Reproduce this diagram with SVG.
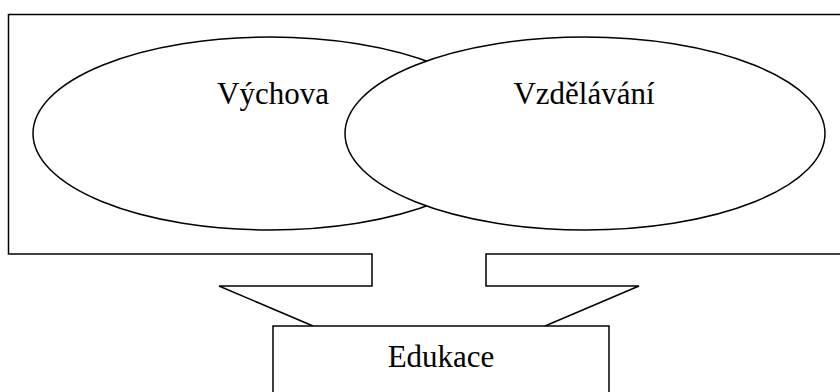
<svg xmlns="http://www.w3.org/2000/svg" width="840" height="392" viewBox="0 0 840 392">
<style>
.s{fill:none;stroke:#000;stroke-width:1.5}
.f{fill:#fff;stroke:#000;stroke-width:1.5}
.t{font-family:"Liberation Serif","Times New Roman",serif;font-size:31px;fill:#000;text-anchor:middle}
</style>
<rect width="840" height="392" fill="#fff"/>
<g id="frame">
<path class="s" d="M313,326 L219,286 L372,286 L372,254 L8.5,254 L8.5,14.5 L850,14.5 L850,254 L486,254 L486,286 L639,286 L545,326"/>
</g>
<g id="vychova">
<ellipse class="f" cx="270" cy="133.5" rx="237" ry="96.5"/>
<text class="t" x="273" y="104">Výchova</text>
</g>
<g id="vzdelavani">
<ellipse class="f" cx="585" cy="133.5" rx="240" ry="96.5"/>
<text class="t" x="584" y="104">Vzdělávání</text>
</g>
<g id="edukace">
<rect class="f" x="273" y="326" width="336" height="80"/>
<text class="t" x="441" y="366.5">Edukace</text>
</g>
<g id="connectors"/>
</svg>
